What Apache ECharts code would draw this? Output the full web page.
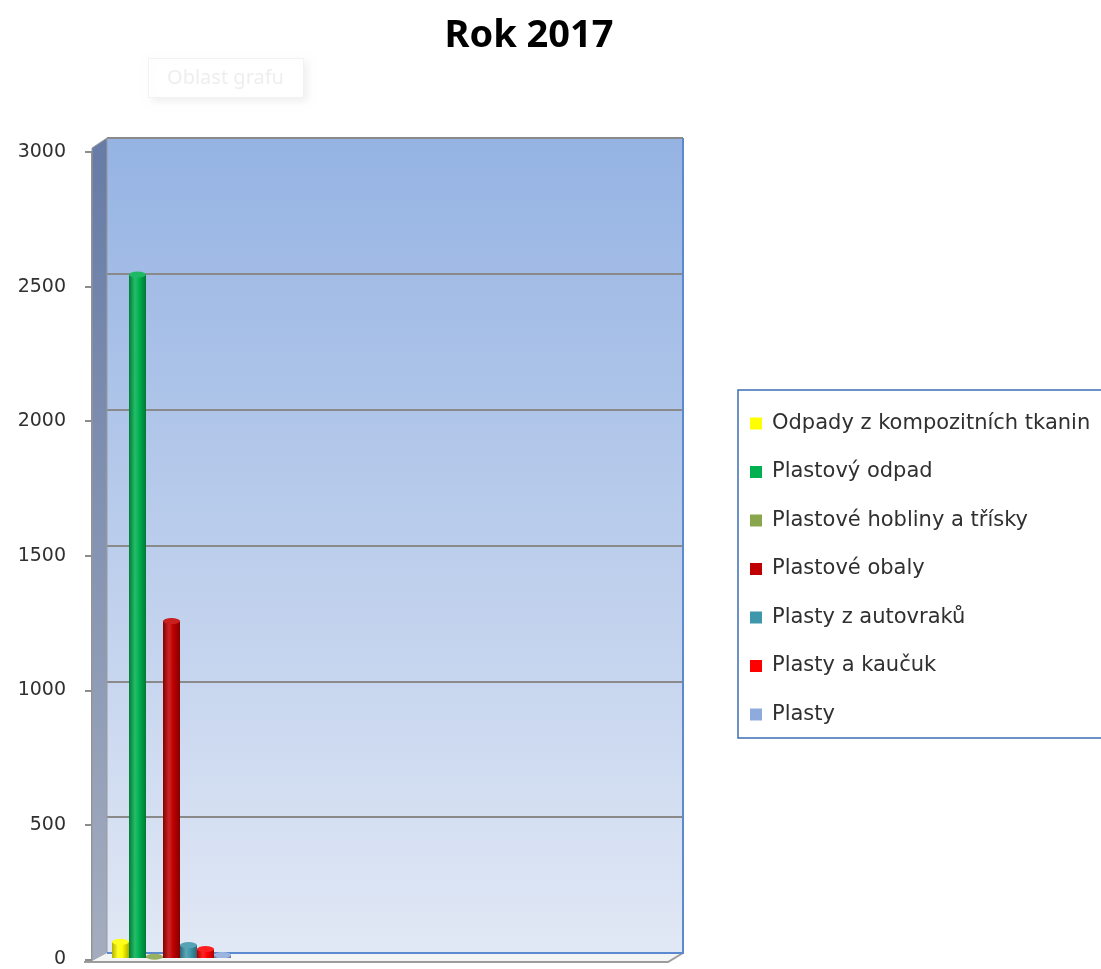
<!DOCTYPE html>
<html>
<head>
<meta charset="utf-8">
<script src="https://cdn.jsdelivr.net/npm/echarts@6/dist/echarts.min.js"></script>
<style>
  html, body { margin: 0; padding: 0; background: #ffffff; }
  #chart { width: 1101px; height: 969px; }
</style>
</head>
<body>
<div id="chart"></div>
<script>
// ---- data ----
const categories = ['2017'];
const seriesNames = [
  'Odpady z kompozitních tkanin',
  'Plastový odpad',
  'Plastové hobliny a třísky',
  'Plastové obaly',
  'Plasty z autovraků',
  'Plasty a kaučuk',
  'Plasty'
];
const seriesValues = [60, 2525, 5, 1245, 48, 33, 11];
const seriesColors = ['#ffff00', '#00b050', '#8aa64c', '#c00000', '#3f97ab', '#ff0000', '#8faadc'];
const Y_MIN = 0, Y_MAX = 3000, Y_STEP = 500;

// ---- layout of the pseudo-3D box ----
const BACK = { left: 107, top: 138, right: 683, bottom: 953 };   // back wall
const FRONT = { left: 92, top: 152, right: 668, bottom: 961 };   // front (axis) plane
const MID = { left: 100, top: 146, bottom: 958, slot: 143 };      // plane the columns stand in
const BAR_W = 17;

function shade(hex, f) {
  const n = parseInt(hex.slice(1), 16);
  let r = (n >> 16) & 255, g = (n >> 8) & 255, b = n & 255;
  const adj = v => f >= 0 ? Math.round(v + (255 - v) * f) : Math.round(v * (1 + f));
  r = adj(r); g = adj(g); b = adj(b);
  return 'rgb(' + r + ',' + g + ',' + b + ')';
}

function cylinderFill(c) {
  return {
    type: 'linear', x: 0, y: 0, x2: 1, y2: 0,
    colorStops: [
      { offset: 0, color: shade(c, -0.3) },
      { offset: 0.35, color: shade(c, 0.15) },
      { offset: 0.6, color: c },
      { offset: 1, color: shade(c, -0.32) }
    ]
  };
}

const chart = echarts.init(document.getElementById('chart'), null, { renderer: 'canvas' });

const bodySeries = seriesNames.map((name, i) => ({
  name: name,
  type: 'bar',
  xAxisIndex: 2,
  yAxisIndex: 2,
  barWidth: BAR_W,
  barGap: '0%',
  z: 3,
  itemStyle: { color: cylinderFill(seriesColors[i]) },
  data: [seriesValues[i]]
}));

const capSeries = seriesNames.map((name, i) => ({
  name: name,
  type: 'pictorialBar',
  xAxisIndex: 2,
  yAxisIndex: 2,
  barWidth: BAR_W,
  barGap: '0%',
  symbol: 'circle',
  symbolSize: [BAR_W, 6],
  symbolPosition: 'end',
  symbolOffset: [0, '-50%'],
  z: 4,
  itemStyle: { color: shade(seriesColors[i], 0.12) },
  data: [seriesValues[i]]
}));

const hiddenValueX = gi => ({
  type: 'value', gridIndex: gi, min: 0, max: 1, show: false
});

const option = {
  animation: false,
  backgroundColor: '#ffffff',
  title: {
    text: 'Rok 2017',
    left: 524,
    textAlign: 'center',
    top: 12,
    textStyle: { fontFamily: 'Noto Sans', fontWeight: 'bold', fontSize: 38, color: '#000000' }
  },
  legend: {
    orient: 'vertical',
    left: 738,
    top: 390,
    padding: [23, 60, 13, 12],
    borderColor: '#3a6fb8',
    borderWidth: 1.5,
    itemWidth: 12,
    itemHeight: 12,
    itemGap: 27.5,
    icon: 'rect',
    selectedMode: false,
    textStyle: { fontFamily: 'DejaVu Sans', fontSize: 21, color: '#303030', padding: [0, 0, 0, 5] },
    data: seriesNames.map((n, i) => ({ name: n, itemStyle: { color: seriesColors[i] } }))
  },
  grid: [
    { // back wall
      left: BACK.left, top: BACK.top, width: BACK.right - BACK.left, height: BACK.bottom - BACK.top,
      show: true, borderWidth: 0,
      backgroundColor: {
        type: 'linear', x: 0, y: 0, x2: 0, y2: 1,
        colorStops: [{ offset: 0, color: '#95b3e3' }, { offset: 1, color: '#e1e8f5' }]
      }
    },
    { // front axis plane
      left: FRONT.left, top: FRONT.top, width: FRONT.right - FRONT.left, height: FRONT.bottom - FRONT.top
    },
    { // columns plane, first category slot
      left: MID.left, top: MID.top, width: MID.slot, height: MID.bottom - MID.top
    }
  ],
  xAxis: [
    hiddenValueX(0),
    hiddenValueX(1),
    { type: 'category', gridIndex: 2, data: categories, show: false }
  ],
  yAxis: [
    {
      type: 'value', gridIndex: 0, min: Y_MIN, max: Y_MAX, interval: Y_STEP,
      axisLine: { show: false }, axisTick: { show: false }, axisLabel: { show: false },
      splitLine: { show: true, lineStyle: { color: '#8a8a8a', width: 2 } }
    },
    {
      type: 'value', gridIndex: 1, min: Y_MIN, max: Y_MAX, interval: Y_STEP,
      axisLine: { show: true, lineStyle: { color: '#8c8c8c', width: 2 } },
      axisTick: { show: true, length: 7, lineStyle: { color: '#8c8c8c', width: 2 } },
      axisLabel: {
        show: true, margin: 26, fontFamily: 'DejaVu Sans', fontSize: 19, color: '#303030',
        formatter: v => String(v)
      },
      splitLine: { show: false }
    },
    {
      type: 'value', gridIndex: 2, min: Y_MIN, max: Y_MAX, interval: Y_STEP, show: false,
      splitLine: { show: false }
    }
  ],
  graphic: [
    { // left side wall
      type: 'polygon', z: 1,
      shape: { points: [[FRONT.left, FRONT.top - 4], [BACK.left, BACK.top], [BACK.left, BACK.bottom], [FRONT.left, FRONT.bottom]] },
      style: {
        fill: {
          type: 'linear', x: 0, y: 0, x2: 0, y2: 1,
          colorStops: [{ offset: 0, color: '#667ba6' }, { offset: 1, color: '#a4adbf' }]
        },
        stroke: '#9a9a9a', lineWidth: 1
      }
    },
    { // floor
      type: 'polygon', z: 1,
      shape: { points: [[FRONT.left, FRONT.bottom], [BACK.left, BACK.bottom], [BACK.right, BACK.bottom], [FRONT.right, FRONT.bottom + 1]] },
      style: { fill: '#f3f4f6' }
    },
    { // floor front edge
      type: 'polyline', z: 2,
      shape: { points: [[FRONT.left - 8, FRONT.bottom + 1], [FRONT.right, FRONT.bottom + 1], [BACK.right, BACK.bottom]] },
      style: { stroke: '#9c9c9c', lineWidth: 2, fill: null }
    },
    { // back wall right and bottom edges
      type: 'polyline', z: 2,
      shape: { points: [[BACK.right, BACK.top], [BACK.right, BACK.bottom], [BACK.left, BACK.bottom]] },
      style: { stroke: '#5b8ad0', lineWidth: 2, fill: null }
    },
    { // chart-area hover label
      type: 'group', left: 148, top: 58, z: 10,
      children: [
        {
          type: 'rect', shape: { x: 0, y: 0, width: 155, height: 39 },
          style: { fill: '#ffffff', stroke: '#f2f2f2', lineWidth: 1, shadowBlur: 8, shadowColor: 'rgba(0,0,0,0.06)', shadowOffsetX: 3, shadowOffsetY: 3 }
        },
        {
          type: 'text', x: 77, y: 20,
          style: { text: 'Oblast grafu', fill: '#eeeeee', font: '20px "Noto Sans"', align: 'center', verticalAlign: 'middle' }
        }
      ]
    }
  ],
  series: bodySeries.concat(capSeries)
};

chart.setOption(option);
</script>
</body>
</html>
